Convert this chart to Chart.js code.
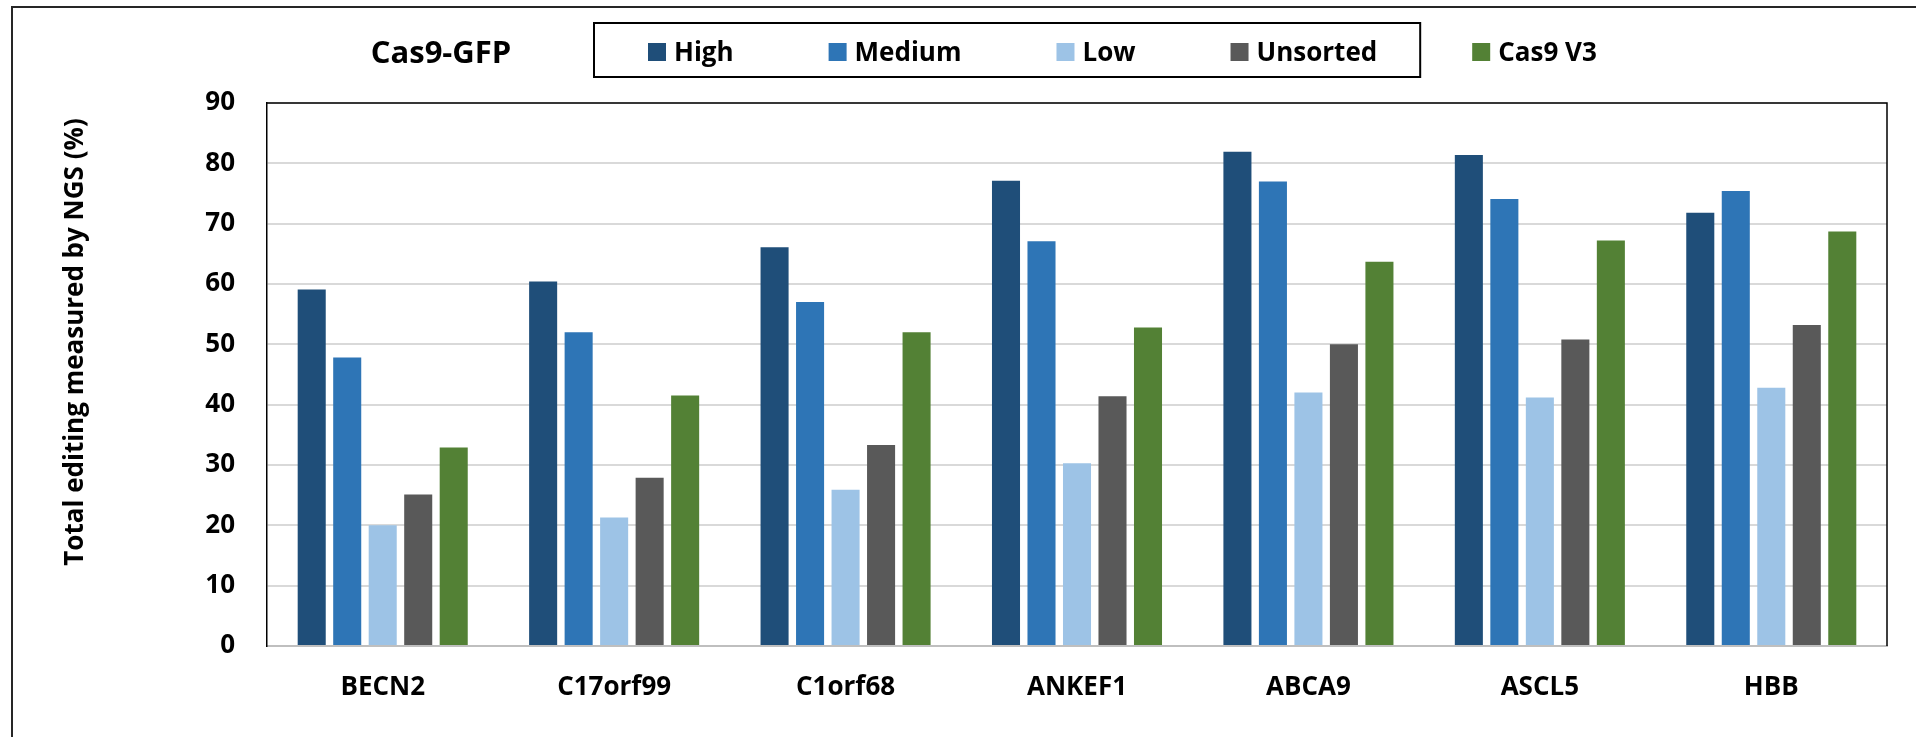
<!DOCTYPE html>
<html>
<head>
<meta charset="utf-8">
<title>Cas9-GFP total editing</title>
<script src="https://cdn.jsdelivr.net/npm/chart.js@4/dist/chart.umd.min.js"></script>
<style>
  html, body { margin: 0; padding: 0; background: #ffffff; }
  #wrap { width: 1916px; height: 737px; }
</style>
</head>
<body>
<div id="wrap"><canvas id="chart" width="1916" height="737"></canvas></div>
<script>
// Genes on the x axis
const categories = ['BECN2', 'C17orf99', 'C1orf68', 'ANKEF1', 'ABCA9', 'ASCL5', 'HBB'];

// Total editing (%) per sorted population
const high     = [59.1, 60.4, 66.1, 77.1, 81.9, 81.4, 71.8];
const medium   = [47.8, 52.0, 57.0, 67.1, 77.0, 74.1, 75.4];
const low      = [20.0, 21.3, 25.9, 30.3, 42.0, 41.2, 42.8];
const unsorted = [25.1, 27.9, 33.3, 41.4, 50.0, 50.8, 53.2];
const cas9V3   = [32.9, 41.5, 52.0, 52.8, 63.7, 67.2, 68.7];

const seriesNames = ['High', 'Medium', 'Low', 'Unsorted', 'Cas9 V3'];
const seriesColors = ['#1F4E79', '#2E75B6', '#9DC3E6', '#595959', '#538135'];

// Y axis range
const yMin = 0;
const yMax = 90;
const yStep = 10;

const chartTitle = 'Cas9-GFP';
const yTitle = 'Total editing measured by NGS (%)';

const FONT = '"Open Sans", "Liberation Sans", sans-serif';

const values = [high, medium, low, unsorted, cas9V3];
const datasets = seriesNames.map((name, i) => ({
  label: name,
  data: values[i],
  backgroundColor: seriesColors[i],
  borderWidth: 0,
  categoryPercentage: 0.767,
  barPercentage: 0.79
}));

// Frame, title, legend, y-axis title and plot-area border
const decorations = {
  id: 'decorations',
  beforeDraw(chart) {
    const ctx = chart.ctx;
    ctx.save();
    ctx.fillStyle = '#ffffff';
    ctx.fillRect(0, 0, chart.width, chart.height);
    // outer frame (left and top edges)
    ctx.strokeStyle = '#262626';
    ctx.lineWidth = 2;
    ctx.beginPath();
    ctx.moveTo(12, chart.height);
    ctx.lineTo(12, 7);
    ctx.lineTo(chart.width, 7);
    ctx.stroke();
    ctx.restore();
  },
  afterDraw(chart) {
    const ctx = chart.ctx;
    const a = chart.chartArea;
    ctx.save();

    // top and right edges of the plot area
    ctx.strokeStyle = '#000000';
    ctx.lineWidth = 1.5;
    ctx.beginPath();
    ctx.moveTo(a.left, a.top);
    ctx.lineTo(a.right, a.top);
    ctx.lineTo(a.right, a.bottom);
    ctx.stroke();

    // chart title
    ctx.fillStyle = '#000000';
    ctx.font = 'bold 31px ' + FONT;
    ctx.textAlign = 'center';
    ctx.textBaseline = 'alphabetic';
    ctx.fillText(chartTitle, 441, 63);

    // legend
    ctx.font = 'bold 26px ' + FONT;
    ctx.textAlign = 'left';
    let x = 648;
    let boxRight = 0;
    chart.data.datasets.forEach((ds, i) => {
      ctx.fillStyle = ds.backgroundColor;
      ctx.fillRect(x, 43, 18, 18);
      ctx.fillStyle = '#000000';
      ctx.fillText(ds.label, x + 26, 61);
      const end = x + 26 + ctx.measureText(ds.label).width;
      if (i === 3) boxRight = end + 43;
      x = end + 95;
    });
    ctx.strokeStyle = '#000000';
    ctx.lineWidth = 2;
    ctx.strokeRect(594, 23, boxRight - 594, 54);

    // y axis title
    ctx.translate(76, 342);
    ctx.rotate(-Math.PI / 2);
    ctx.font = 'bold 26px ' + FONT;
    ctx.textAlign = 'center';
    ctx.textBaseline = 'middle';
    ctx.fillStyle = '#000000';
    ctx.fillText(yTitle, 0, 0);

    ctx.restore();
  }
};

new Chart(document.getElementById('chart'), {
  type: 'bar',
  data: { labels: categories, datasets: datasets },
  options: {
    responsive: false,
    animation: false,
    layout: { padding: { left: 0, top: 103, right: 29, bottom: 0 } },
    plugins: {
      legend: { display: false },
      title: { display: false },
      tooltip: { enabled: false }
    },
    scales: {
      x: {
        grid: { display: false, drawTicks: false },
        border: { display: true, color: '#BFBFBF', width: 2 },
        ticks: {
          color: '#000000',
          font: { family: FONT, size: 26, weight: 'bold' },
          padding: 26,
          maxRotation: 0
        },
        afterFit(scale) { scale.height = 91; }
      },
      y: {
        min: yMin,
        max: yMax,
        grid: { color: '#D9D9D9', lineWidth: 2, drawTicks: false },
        border: { display: true, color: '#000000', width: 1.5 },
        ticks: {
          stepSize: yStep,
          color: '#000000',
          font: { family: FONT, size: 26, weight: 'bold' },
          padding: 32
        },
        afterFit(scale) { scale.width = 267; }
      }
    }
  },
  plugins: [decorations]
});
</script>
</body>
</html>
